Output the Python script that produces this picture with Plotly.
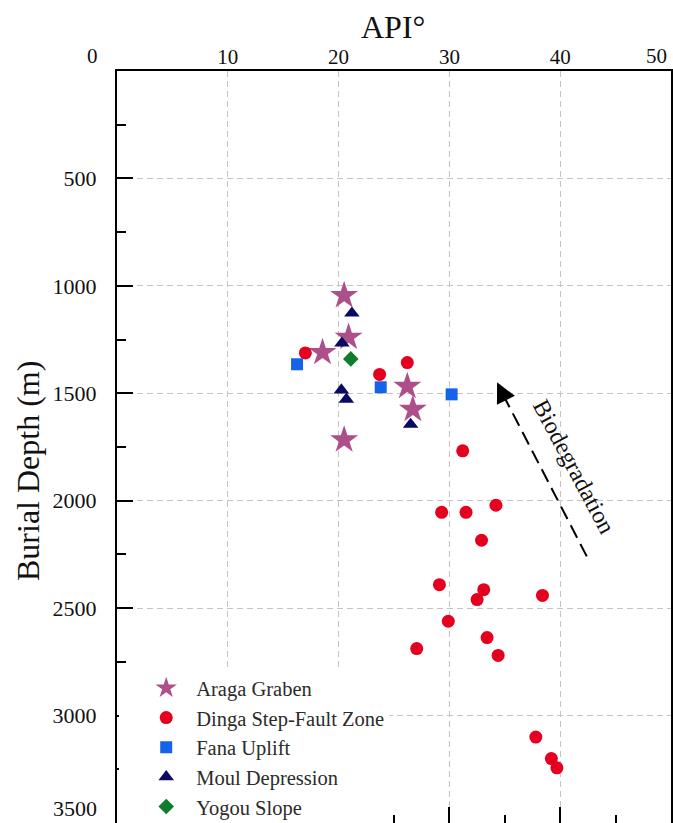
import plotly.graph_objects as go

# ---------------- data ----------------
araga_api = [20.5, 20.9, 18.55, 26.2, 26.7, 20.5]
araga_depth = [1045, 1239, 1310, 1468, 1575, 1717]

dinga_api = [17.0, 26.2, 23.7, 31.2, 29.3, 31.5, 34.2, 32.9, 29.1, 33.1,
             32.5, 38.4, 29.9, 33.4, 27.05, 34.4, 37.8, 39.2, 39.7]
dinga_depth = [1312, 1357, 1412, 1768, 2054, 2054, 2021, 2184, 2391, 2414,
               2460, 2441, 2561, 2637, 2688, 2720, 3100, 3200, 3243]

fana_api = [16.25, 23.8, 30.2]
fana_depth = [1365, 1472, 1505]

moul_api = [21.2, 20.3, 20.25, 20.7, 26.5]
moul_depth = [1127, 1267, 1485, 1528, 1645]

yogou_api = [21.1]
yogou_depth = [1340]

x_ticks = [10, 20, 30, 40]
y_ticks = [500, 1000, 1500, 2000, 2500, 3000]

# biodegradation arrow (tail -> head), in data units
arrow_tail = (42.4, 2259)
arrow_neck = (35.0, 1522)
arrow_head = (34.3, 1449)

SERIF = "Liberation Serif"
INK = "#111111"

fig = go.Figure()

series = [
    ("Araga Graben", araga_api, araga_depth, "star", 21, "#ad4f88"),
    ("Dinga Step-Fault Zone", dinga_api, dinga_depth, "circle", 13, "#e6001f"),
    ("Fana Uplift", fana_api, fana_depth, "square", 12, "#1463e8"),
    ("Moul Depression", moul_api, moul_depth, "triangle-up", 13.5, "#0a0a62"),
    ("Yogou Slope", yogou_api, yogou_depth, "diamond", 12, "#0f7d2c"),
]
for name, xs, ys, sym, sz, col in series:
    fig.add_trace(go.Scatter(
        x=xs, y=ys, mode="markers", name=name,
        marker=dict(symbol=sym, size=sz, color=col, line=dict(width=0)),
    ))

grid_kw = dict(showgrid=True, gridcolor="#c4c4c4", gridwidth=1.3, griddash="6px,4px")

fig.update_layout(
    width=673, height=823,
    margin=dict(l=117, r=2, t=71, b=0, autoexpand=False),
    paper_bgcolor="white", plot_bgcolor="white",
    font=dict(family=SERIF, color=INK),
    showlegend=True,
    legend=dict(
        x=0.004, xanchor="left", y=0.206, yanchor="top",
        bgcolor="white", borderwidth=0,
        font=dict(family=SERIF, size=20.5, color="#2b2b2b"),
        itemwidth=50, indentation=17, tracegroupgap=0,
    ),
    xaxis=dict(
        side="top", range=[0, 50], tickvals=x_ticks,
        ticks="", showline=True, linewidth=2, linecolor="black", mirror=True,
        tickfont=dict(family=SERIF, size=21, color=INK),
        ticklabelstandoff=-3,
        zeroline=False, **grid_kw,
    ),
    xaxis2=dict(
        overlaying="x", side="bottom", anchor="y", range=[0, 50],
        tickvals=[0, 10, 20, 30, 40, 50], ticks="inside", ticklen=16, tickwidth=2, tickcolor="black",
        showticklabels=False, showgrid=False, zeroline=False, showline=False,
        minor=dict(ticks="inside", ticklen=8, tickwidth=2, tickcolor="black", dtick=5, showgrid=False),
    ),
    yaxis=dict(
        range=[3500, 0], tickvals=y_ticks,
        ticks="inside", ticklen=16, tickwidth=2, tickcolor="black",
        minor=dict(ticks="inside", ticklen=9, tickwidth=2, tickcolor="black", dtick=250, showgrid=False),
        showline=True, linewidth=2, linecolor="black", mirror=True,
        tickfont=dict(family=SERIF, size=22, color=INK),
        ticklabelstandoff=14,
        zeroline=False, **grid_kw,
    ),
)

# invisible trace so the bottom tick axis renders
fig.add_trace(go.Scatter(x=[0, 50], y=[0, 0], xaxis="x2", yaxis="y", mode="markers",
                         marker=dict(opacity=0), showlegend=False, hoverinfo="skip"))

# axis titles
fig.add_annotation(text="API°", xref="paper", yref="paper",
                   x=(393 - 117) / 554, y=(823 - 27) / 752, xanchor="center", yanchor="middle",
                   showarrow=False, font=dict(family=SERIF, size=32, color=INK))
fig.add_annotation(text="Burial Depth (m)", xref="paper", yref="paper",
                   x=(28 - 117) / 554, y=(823 - 471) / 752, xanchor="center", yanchor="middle",
                   showarrow=False, textangle=-90,
                   font=dict(family=SERIF, size=32, color=INK))
# edge tick labels
fig.add_annotation(text="0", xref="paper", yref="paper", x=(92 - 117) / 554, y=(823 - 56) / 752,
                   xanchor="center", yanchor="middle", showarrow=False,
                   font=dict(family=SERIF, size=21, color=INK))
fig.add_annotation(text="50", xref="paper", yref="paper", x=(669 - 117) / 554, y=(823 - 56) / 752,
                   xanchor="right", yanchor="middle", showarrow=False,
                   font=dict(family=SERIF, size=21, color=INK))
fig.add_annotation(text="3500", xref="paper", yref="paper", x=(99 - 117) / 554, y=0,
                   xanchor="right", yanchor="bottom", showarrow=False,
                   font=dict(family=SERIF, size=22, color=INK))

# biodegradation arrow
fig.add_shape(type="line", xref="x", yref="y",
              x0=arrow_tail[0], y0=arrow_tail[1], x1=arrow_neck[0], y1=arrow_neck[1],
              line=dict(color="black", width=2, dash="14px,7px"))
fig.add_annotation(x=arrow_head[0], y=arrow_head[1], ax=arrow_neck[0], ay=arrow_neck[1],
                   xref="x", yref="y", axref="x", ayref="y", text="",
                   showarrow=True, arrowhead=2, arrowsize=2, arrowwidth=2, arrowcolor="black")
fig.add_annotation(text="Biodegradation", x=41.2, y=1840, xref="x", yref="y",
                   showarrow=False, textangle=62,
                   font=dict(family=SERIF, size=24, color=INK))

fig.write_html("out.html")
